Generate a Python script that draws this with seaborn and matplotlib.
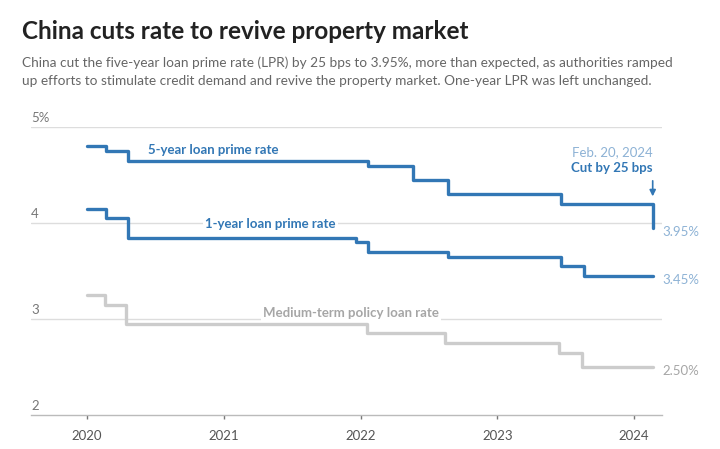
import pandas as pd
import seaborn as sns
import matplotlib.pyplot as plt
import matplotlib.dates as mdates

# step dates and rate levels (%)
lpr5_dates = ["2020-01-01", "2020-02-20", "2020-04-20", "2022-01-20", "2022-05-20",
              "2022-08-22", "2023-06-20", "2024-02-20"]
lpr5_rates = [4.80, 4.75, 4.65, 4.60, 4.45, 4.30, 4.20, 3.95]

lpr1_dates = ["2020-01-01", "2020-02-20", "2020-04-20", "2021-12-20", "2022-01-20",
              "2022-08-22", "2023-06-20", "2023-08-21", "2024-02-20"]
lpr1_rates = [4.15, 4.05, 3.85, 3.80, 3.70, 3.65, 3.55, 3.45, 3.45]

mlf_dates = ["2020-01-01", "2020-02-17", "2020-04-15", "2022-01-17", "2022-08-15",
             "2023-06-15", "2023-08-15", "2024-02-20"]
mlf_rates = [3.25, 3.15, 2.95, 2.85, 2.75, 2.65, 2.50, 2.50]

y_ticks = [2, 3, 4, 5]
y_tick_labels = ["2", "3", "4", "5%"]
x_years = [2020, 2021, 2022, 2023, 2024]

blue = "#3277b5"
light_blue = "#8db2d5"
gray_line = "#cccccc"
gray_text = "#a6a6a6"

sns.set_style("white")
plt.rcParams["font.family"] = ["Lato", "DejaVu Sans"]

fig = plt.figure(figsize=(7.2, 4.49), dpi=100)
ax = fig.add_axes([0.043, 0.0757, 0.876, 0.641])

lpr5 = pd.DataFrame({"date": pd.to_datetime(lpr5_dates), "rate": lpr5_rates})
lpr1 = pd.DataFrame({"date": pd.to_datetime(lpr1_dates), "rate": lpr1_rates})
mlf = pd.DataFrame({"date": pd.to_datetime(mlf_dates), "rate": mlf_rates})

for y in y_ticks[1:]:
    ax.axhline(y, color="#dddddd", lw=1, zorder=0)

sns.lineplot(data=mlf, x="date", y="rate", drawstyle="steps-post", color=gray_line,
             lw=2.4, estimator=None, ax=ax, zorder=2)
sns.lineplot(data=lpr1, x="date", y="rate", drawstyle="steps-post", color=blue,
             lw=2.4, estimator=None, ax=ax, zorder=3)
sns.lineplot(data=lpr5, x="date", y="rate", drawstyle="steps-post", color=blue,
             lw=2.4, estimator=None, ax=ax, zorder=3)

ax.set_ylim(2, 5)
ax.set_xlim(pd.Timestamp("2019-08-04"), pd.Timestamp("2024-03-15"))
ax.set_xlabel("")
ax.set_ylabel("")
ax.set_yticks([])
for v, lab in zip(y_ticks, y_tick_labels):
    ax.text(0, v + 0.03, lab, transform=ax.get_yaxis_transform(), ha="left", va="bottom",
            fontsize=9.5, color="#777777")

ax.set_xticks([pd.Timestamp(f"{y}-01-01") for y in x_years])
ax.xaxis.set_major_formatter(mdates.DateFormatter("%Y"))
ax.tick_params(axis="x", length=3, width=1, color="#777777", labelsize=9.5,
               labelcolor="#555555", pad=8, bottom=True)
for s in ["top", "right", "left"]:
    ax.spines[s].set_visible(False)
ax.spines["bottom"].set_color("#bbbbbb")
ax.spines["bottom"].set_linewidth(1)

# series labels
ax.text(pd.Timestamp("2020-06-12"), 4.76, "5-year loan prime rate", color=blue,
        fontsize=9.5, fontweight="bold", va="center", ha="left")
ax.text(pd.Timestamp("2021-05-05"), 3.99, "1-year loan prime rate", color=blue,
        fontsize=9.5, fontweight="bold", va="center", ha="center",
        bbox=dict(facecolor="white", edgecolor="none", pad=1.5), zorder=4)
ax.text(pd.Timestamp("2021-12-05"), 3.06, "Medium-term policy loan rate", color=gray_text,
        fontsize=9.5, fontweight="bold", va="center", ha="center",
        bbox=dict(facecolor="white", edgecolor="none", pad=1.5), zorder=4)

# end labels
end = pd.Timestamp("2024-02-20")
for v, c in [(3.95, light_blue), (3.45, light_blue), (2.50, gray_text)]:
    ax.annotate(f"{v:.2f}%", xy=(end, v), xytext=(7, -3), textcoords="offset points",
                ha="left", va="center", fontsize=9.5, color=c, annotation_clip=False)

ax.annotate("", xy=(end, 4.25), xytext=(end, 4.47),
            arrowprops=dict(arrowstyle="-|>", color=blue, lw=1.2, mutation_scale=9),
            annotation_clip=False)
ax.text(end, 4.57, "Cut by 25 bps", color=blue, fontsize=9.5, fontweight="bold",
        ha="right", va="center")
ax.text(end, 4.74, "Feb. 20, 2024", color=light_blue, fontsize=9.5, ha="right", va="center")

fig.text(0.031, 0.93, "China cuts rate to revive property market", fontsize=17.5,
         fontweight="bold", color="#222222", ha="left", va="center")
fig.text(0.031, 0.84, "China cut the five-year loan prime rate (LPR) by 25 bps to 3.95%, "
         "more than expected, as authorities ramped\nup efforts to stimulate credit demand "
         "and revive the property market. One-year LPR was left unchanged.",
         fontsize=9.8, color="#666666", ha="left", va="center", linespacing=1.55)

fig.savefig("out.png", dpi=100)
